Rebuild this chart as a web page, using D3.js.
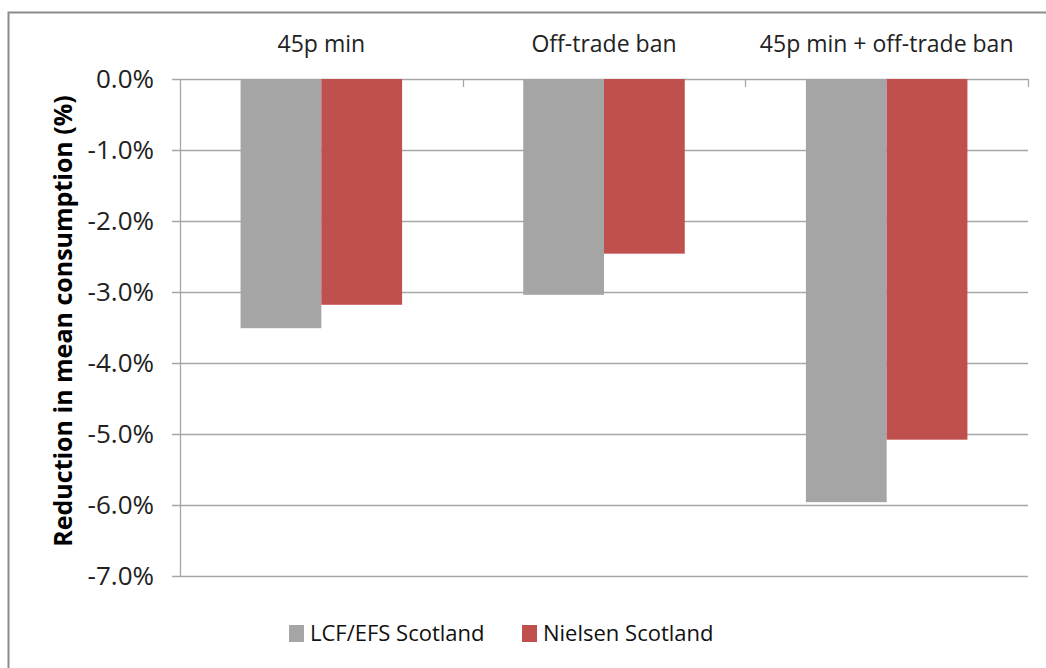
<!DOCTYPE html>
<html><head><meta charset="utf-8">
<script src="https://cdn.jsdelivr.net/npm/d3@7"></script>
<style>
html,body{margin:0;padding:0;background:#fff;}
text{font-family:"Open Sans","Noto Sans",sans-serif;}
</style></head>
<body>
<svg id="chart" width="1046" height="668"></svg>
<script>
const categories = ["45p min", "Off-trade ban", "45p min + off-trade ban"];
const seriesNames = ["LCF/EFS Scotland", "Nielsen Scotland"];
const lcfValues = [-3.51, -3.04, -5.96];
const nielsenValues = [-3.18, -2.46, -5.08];
const yTicks = [0, -1, -2, -3, -4, -5, -6, -7];
const colors = ["#a5a5a5", "#c0504d"];

const svg = d3.select("#chart");
const margin = {left: 180, right: 1028, top: 79, bottom: 576};

// outer border
svg.append("path").attr("d", "M8.5,668 L8.5,12.5 L1046,12.5")
  .attr("fill", "none").attr("stroke", "#8c8c8c").attr("stroke-width", 2);

const x0 = d3.scaleBand().domain(categories).range([margin.left, margin.right]).paddingInner(0).paddingOuter(0);
const x1 = d3.scaleBand().domain(seriesNames).range([0, x0.bandwidth()]).paddingInner(0).paddingOuter(0.75);
const y = d3.scaleLinear().domain([0, -7]).range([margin.top, margin.bottom]);

// gridlines
svg.append("g").selectAll("line").data(yTicks).join("line")
  .attr("x1", margin.left - 8).attr("x2", margin.right)
  .attr("y1", d => Math.round(y(d)) + 0.5).attr("y2", d => Math.round(y(d)) + 0.5)
  .attr("stroke", "#a6a6a6").attr("stroke-width", 1.3);

// y axis line
svg.append("line").attr("x1", margin.left + 0.5).attr("x2", margin.left + 0.5)
  .attr("y1", margin.top).attr("y2", margin.bottom).attr("stroke", "#a6a6a6").attr("stroke-width", 1.3);

// top category ticks
const bounds = categories.map(c => x0(c)).concat([x0.range()[1]]);
svg.append("g").selectAll("line").data(bounds.slice(1)).join("line")
  .attr("x1", d => Math.round(d) + 0.5).attr("x2", d => Math.round(d) + 0.5)
  .attr("y1", margin.top).attr("y2", margin.top + 8)
  .attr("stroke", "#a6a6a6").attr("stroke-width", 1.3);

// y tick labels
svg.append("g").selectAll("text").data(yTicks).join("text")
  .attr("x", 154).attr("y", d => y(d)).attr("dy", "0.36em")
  .attr("text-anchor", "end").attr("font-size", 26).attr("fill", "#222")
  .text(d => d3.format(".1f")(d).replace("\u2212", "-") + "%");

// bars
const data = categories.map((c, i) => ({cat: c, vals: [lcfValues[i], nielsenValues[i]]}));
const groups = svg.append("g").selectAll("g").data(data).join("g")
  .attr("transform", d => `translate(${x0(d.cat)},0)`);
groups.selectAll("rect").data(d => d.vals.map((v, j) => ({v, s: seriesNames[j], j}))).join("rect")
  .attr("x", d => x1(d.s)).attr("width", x1.bandwidth())
  .attr("y", y(0)).attr("height", d => y(d.v) - y(0))
  .attr("fill", d => colors[d.j]);

// category labels
svg.append("g").selectAll("text").data(categories).join("text")
  .attr("x", d => x0(d) + x0.bandwidth() / 2).attr("y", 44).attr("dy", "0.35em")
  .attr("text-anchor", "middle").attr("font-size", 23).attr("fill", "#222")
  .text(d => d);

// y title
svg.append("text").attr("transform", "translate(63,321) rotate(-90)")
  .attr("text-anchor", "middle").attr("dy", "0.35em")
  .attr("font-size", 25).attr("font-weight", "bold").attr("fill", "#000")
  .text("Reduction in mean consumption (%)");

// legend
const legendX = [289, 522];
const lg = svg.append("g").selectAll("g").data(seriesNames).join("g")
  .attr("transform", (d, i) => `translate(${legendX[i]},633)`);
lg.append("rect").attr("x", 0).attr("y", -8).attr("width", 15).attr("height", 17)
  .attr("fill", (d, i) => colors[i]);
lg.append("text").attr("x", 21).attr("y", 0).attr("dy", "0.35em")
  .attr("font-size", 22).attr("fill", "#111").text(d => d);
</script>
</body></html>
